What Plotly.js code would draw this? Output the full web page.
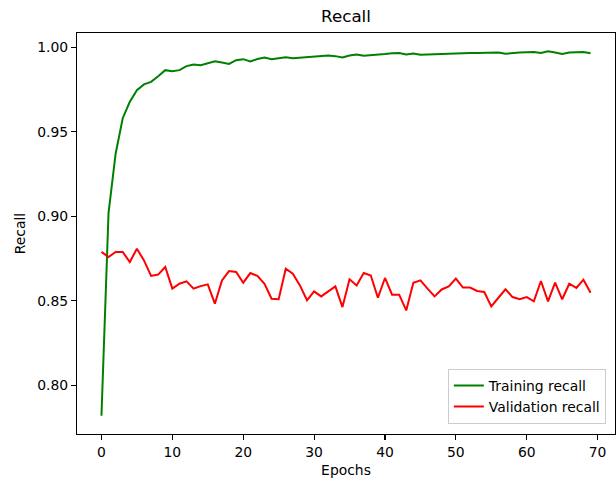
<!DOCTYPE html>
<html>
<head>
<meta charset="utf-8">
<script src="https://cdn.plot.ly/plotly-3.0.1.min.js"></script>
<style>html,body{margin:0;padding:0;background:#fff;}#chart{width:616px;height:489px;}</style>
</head>
<body>
<div id="chart"></div>
<script>
const epochs = Array.from({length: 70}, (_, i) => i);
const trainingRecall = [
  0.782, 0.902, 0.937, 0.958, 0.9677, 0.9746, 0.978, 0.9795, 0.9828, 0.9864,
  0.9858, 0.9864, 0.9888, 0.9897, 0.9893, 0.9903, 0.9917, 0.9909, 0.9901, 0.9923,
  0.9929, 0.9915, 0.993, 0.9939, 0.9929, 0.9935, 0.9941, 0.9935, 0.9939, 0.9943,
  0.9947, 0.9949, 0.9951, 0.9947, 0.9939, 0.9951, 0.9957, 0.9949, 0.9951, 0.9957,
  0.9959, 0.9964, 0.9966, 0.9957, 0.9963, 0.9955, 0.9957, 0.9959, 0.9961, 0.9963,
  0.9964, 0.9966, 0.9966, 0.9966, 0.9966, 0.997, 0.9968, 0.9961, 0.9966, 0.9968,
  0.997, 0.9972, 0.9966, 0.9976, 0.9968, 0.9959, 0.9968, 0.997, 0.9972, 0.9964
];
const validationRecall = [
  0.8789, 0.8759, 0.8789, 0.8789, 0.8729, 0.8808, 0.8739, 0.8647, 0.8655, 0.870,
  0.8572, 0.8601, 0.8615, 0.8572, 0.8587, 0.8597, 0.8483, 0.8621, 0.8676, 0.867,
  0.8607, 0.8664, 0.8647, 0.8601, 0.8512, 0.8509, 0.869, 0.866, 0.8591, 0.8503,
  0.8556, 0.8526, 0.8556, 0.8585, 0.8463, 0.8627, 0.8591, 0.8664, 0.865, 0.8518,
  0.8635, 0.8536, 0.8536, 0.8443, 0.8607, 0.8621, 0.8572, 0.8526, 0.8567, 0.8585,
  0.8631, 0.8578, 0.8578, 0.8558, 0.8552, 0.8467, 0.8518, 0.8568, 0.8522, 0.8509,
  0.8522, 0.8497, 0.8617, 0.8497, 0.8607, 0.8509, 0.8601, 0.8576, 0.8625, 0.8548
];
const yTicks = [0.80, 0.85, 0.90, 0.95, 1.00];
const xTicks = [0, 10, 20, 30, 40, 50, 60, 70];
const seriesNames = ['Training recall', 'Validation recall'];

const allY = trainingRecall.concat(validationRecall);
const yMin = Math.min(...allY), yMax = Math.max(...allY);
const ySpan = yMax - yMin;
const xMin = Math.min(...epochs), xMax = Math.max(...epochs);
const xSpan = xMax - xMin;

const font = {family: 'DejaVu Sans, sans-serif', size: 13.9, color: '#000'};

const traces = [
  {x: epochs, y: trainingRecall, name: seriesNames[0], type: 'scatter', mode: 'lines',
   line: {color: '#008000', width: 2}},
  {x: epochs, y: validationRecall, name: seriesNames[1], type: 'scatter', mode: 'lines',
   line: {color: '#ff0000', width: 2}}
];

const axisCommon = {
  showline: true, mirror: true, linecolor: '#000', linewidth: 1.1,
  ticks: 'outside', ticklen: 5, tickwidth: 1.1, tickcolor: '#000',
  showgrid: false, zeroline: false, tickfont: font
};

const layout = {
  width: 616, height: 489,
  margin: {l: 77, r: 1, t: 33, b: 55},
  paper_bgcolor: '#fff', plot_bgcolor: '#fff',
  font: font,
  title: {text: 'Recall', font: {family: font.family, size: 16.7, color: '#000'},
          x: (77 + 615) / 2 / 616, xanchor: 'center', y: 1 - 16 / 489, yanchor: 'middle'},
  xaxis: Object.assign({}, axisCommon, {
    range: [xMin - 0.05 * xSpan, xMax + 0.05 * xSpan],
    tickvals: xTicks, ticktext: xTicks.map(String),
    title: {text: 'Epochs', font: font, standoff: 6}
  }),
  yaxis: Object.assign({}, axisCommon, {
    range: [yMin - 0.05 * ySpan, yMax + 0.05 * ySpan],
    tickvals: yTicks, ticktext: yTicks.map(v => v.toFixed(2)),
    title: {text: 'Recall', font: font, standoff: 8}
  }),
  showlegend: true,
  legend: {
    x: 0.983, xanchor: 'right', y: 0.025, yanchor: 'bottom',
    bgcolor: 'rgba(255,255,255,0.8)', bordercolor: '#cccccc', borderwidth: 1,
    font: font, tracegroupgap: 0
  }
};

Plotly.newPlot('chart', traces, layout, {staticPlot: true, displayModeBar: false});
</script>
</body>
</html>
